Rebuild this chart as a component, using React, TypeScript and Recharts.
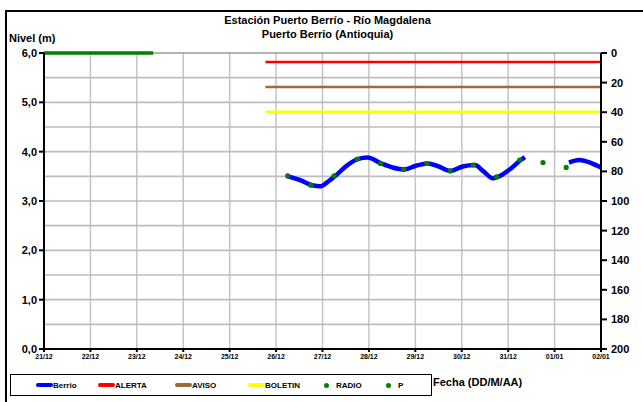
import React from 'react';
import {
  ComposedChart,
  Line,
  Scatter,
  XAxis,
  YAxis,
  CartesianGrid,
} from 'recharts';

// x = days after 21/12 00:00, v = nivel (m)
const dateLabels = ['21/12', '22/12', '23/12', '24/12', '25/12', '26/12', '27/12', '28/12', '29/12', '30/12', '31/12', '01/01', '02/01'];
const dayTicks = [0, 1, 2, 3, 4, 5, 6, 7, 8, 9, 10, 11, 12];
const levelTicks = [0, 1, 2, 3, 4, 5, 6];
const gridLevels = [0.5, 1, 1.5, 2, 2.5, 3, 3.5, 4, 4.5, 5, 5.5];
const gridDays = [1, 2, 3, 4, 5, 6, 7, 8, 9, 10, 11];
const cmTicks = [0, 20, 40, 60, 80, 100, 120, 140, 160, 180, 200];

const berrio = [
  { d: 5.22, v: 3.51 }, { d: 5.53, v: 3.42 }, { d: 5.78, v: 3.32 }, { d: 5.96, v: 3.3 },
  { d: 6.13, v: 3.4 }, { d: 6.28, v: 3.51 }, { d: 6.5, v: 3.7 }, { d: 6.76, v: 3.85 },
  { d: 6.97, v: 3.88 }, { d: 7.27, v: 3.76 }, { d: 7.51, v: 3.68 }, { d: 7.77, v: 3.64 },
  { d: 8.0, v: 3.71 }, { d: 8.27, v: 3.76 }, { d: 8.5, v: 3.7 }, { d: 8.76, v: 3.61 },
  { d: 9.02, v: 3.7 }, { d: 9.28, v: 3.73 }, { d: 9.47, v: 3.6 }, { d: 9.67, v: 3.46 },
  { d: 9.78, v: 3.49 }, { d: 10.06, v: 3.66 }, { d: 10.27, v: 3.83 }, { d: 10.36, v: 3.89 },
  { d: 10.8, v: null },
  { d: 11.31, v: 3.78 }, { d: 11.53, v: 3.83 }, { d: 11.79, v: 3.77 }, { d: 12.0, v: 3.68 },
];

const radio = [
  { d: 5.25, v: 3.51 }, { d: 5.75, v: 3.32 }, { d: 6.25, v: 3.51 }, { d: 6.75, v: 3.85 },
  { d: 7.25, v: 3.76 }, { d: 7.75, v: 3.64 }, { d: 8.25, v: 3.76 }, { d: 8.75, v: 3.61 },
  { d: 9.25, v: 3.73 }, { d: 9.75, v: 3.49 }, { d: 10.25, v: 3.83 }, { d: 10.75, v: 3.78 },
  { d: 11.25, v: 3.68 },
];

const pSeries = [{ d: 0, v: 6.0 }, { d: 2.35, v: 6.0 }];
const alerta = [{ d: 4.77, v: 5.82 }, { d: 12, v: 5.82 }];
const aviso = [{ d: 4.77, v: 5.31 }, { d: 12, v: 5.31 }];
const boletin = [{ d: 4.77, v: 4.81 }, { d: 12, v: 4.81 }];
const cmRange = [{ d: 0, c: 0 }, { d: 12, c: 200 }];

// horizontal grid rows, one flat two-point series per level (drawn under the data)
const gridRows = gridLevels.map((g) => [{ d: 0, v: g }, { d: 12, v: g }]);
const topRow = [{ d: 0, v: 6 }, { d: 12, v: 6 }];

const legendItems = [
  { label: 'Berrio', color: '#0000ff', kind: 'line', x: 36 },
  { label: 'ALERTA', color: '#ff0000', kind: 'line', x: 98 },
  { label: 'AVISO', color: '#9c6a3c', kind: 'line', x: 175 },
  { label: 'BOLETIN', color: '#ffff00', kind: 'line', x: 248 },
  { label: 'RADIO', color: '#008000', kind: 'dot', x: 324 },
  { label: 'P', color: '#008000', kind: 'dot', x: 386 },
];

const font = 'Arial, "Liberation Sans", sans-serif';

const Dot = (props: any) => {
  const { cx, cy } = props;
  return <circle cx={cx} cy={cy} r={2.6} fill="#008000" />;
};

const formatDay = (i: number) => dateLabels[i];
const formatLevel = (v: number) => v.toFixed(1).replace('.', ',');

export default function App() {
  return (
    <div style={{ position: 'absolute', left: 0, top: 0, width: 643, height: 402, overflow: 'hidden', background: '#fff', fontFamily: font }}>
      {/* outer frame, only top/left visible */}
      <div style={{ position: 'absolute', left: 5, top: 10, width: 800, height: 600, borderLeft: '2.5px solid #000', borderTop: '2.5px solid #000' }} />
      <div style={{ position: 'absolute', left: 0, width: 655, top: 13, textAlign: 'center', fontSize: 11, fontWeight: 'bold', lineHeight: '14px' }}>
        Estación Puerto Berrío - Río Magdalena<br />Puerto Berrio (Antioquia)
      </div>
      <div style={{ position: 'absolute', left: 9, top: 32, fontSize: 11, fontWeight: 'bold' }}>Nivel (m)</div>

      <div style={{ position: 'absolute', left: 0, top: 0 }}>
        <ComposedChart width={643} height={402} margin={{ top: 53, right: 0, bottom: 33, left: 0 }}>
          <CartesianGrid
            horizontal={false}
            stroke="#c4c4c4"
            strokeWidth={1.5}
            verticalValues={gridDays}
          />
          <XAxis
            dataKey="d"
            type="number"
            domain={[0, 12]}
            ticks={dayTicks}
            tickFormatter={formatDay}
            interval={0}
            height={20}
            stroke="#000"
            strokeWidth={2}
            tickSize={3}
            tick={{ fontSize: 7, fontWeight: 'bold', fill: '#000', fontFamily: font }}
            allowDataOverflow
          />
          <YAxis
            yAxisId="left"
            dataKey="v"
            type="number"
            domain={[0, 6]}
            ticks={levelTicks}
            tickFormatter={formatLevel}
            width={44}
            stroke="#000"
            strokeWidth={2}
            tickSize={5}
            tick={{ fontSize: 11, fontWeight: 'bold', fill: '#000', fontFamily: font }}
          />
          <YAxis
            yAxisId="right"
            orientation="right"
            dataKey="c"
            type="number"
            domain={[0, 200]}
            reversed
            ticks={cmTicks}
            width={42}
            stroke="#000"
            strokeWidth={2}
            tickSize={6}
            tick={{ fontSize: 11, fontWeight: 'bold', fill: '#000', fontFamily: font, dx: 2 }}
          />
          {gridRows.map((row, i) => (
            <Line key={`grid-${i}`} yAxisId="left" data={row} dataKey="v" stroke="#bdbdbd" strokeWidth={1.6} dot={false} activeDot={false} isAnimationActive={false} />
          ))}
          <Line yAxisId="left" data={topRow} dataKey="v" stroke="#999" strokeWidth={1.6} dot={false} activeDot={false} isAnimationActive={false} />
          <Line yAxisId="right" data={cmRange} dataKey="c" stroke="none" dot={false} activeDot={false} isAnimationActive={false} />
          <Line yAxisId="left" data={alerta} dataKey="v" stroke="#ff0000" strokeWidth={2.5} dot={false} isAnimationActive={false} />
          <Line yAxisId="left" data={aviso} dataKey="v" stroke="#9c6a3c" strokeWidth={2.5} dot={false} isAnimationActive={false} />
          <Line yAxisId="left" data={boletin} dataKey="v" stroke="#ffff00" strokeWidth={2.5} dot={false} isAnimationActive={false} />
          <Line yAxisId="left" data={pSeries} dataKey="v" stroke="#008000" strokeWidth={3.5} dot={false} isAnimationActive={false} />
          <Line yAxisId="left" data={berrio} dataKey="v" type="monotone" stroke="#0000ff" strokeWidth={4.5} dot={false} connectNulls={false} isAnimationActive={false} />
          <Scatter yAxisId="left" data={radio} dataKey="v" shape={<Dot />} isAnimationActive={false} />
        </ComposedChart>
      </div>

      {/* legend */}
      <div style={{ position: 'absolute', left: 10, top: 374, width: 422, height: 22, border: '1.5px solid #000', boxSizing: 'border-box' }} />
      {legendItems.map((it) => (
        <div key={it.label} style={{ position: 'absolute', left: it.x, top: 380, height: 10, display: 'flex', alignItems: 'center', fontSize: 8, fontWeight: 'bold' }}>
          {it.kind === 'line' ? (
            <span style={{ display: 'inline-block', width: 17, height: 4, background: it.color, borderRadius: 2 }} />
          ) : (
            <span style={{ display: 'inline-block', width: 5, height: 5, margin: '0 7px 0 0', borderRadius: 3, background: it.color }} />
          )}
          <span>{it.label}</span>
        </div>
      ))}
      <div style={{ position: 'absolute', left: 433, top: 376, fontSize: 11, fontWeight: 'bold' }}>Fecha (DD/M/AA)</div>
    </div>
  );
}
